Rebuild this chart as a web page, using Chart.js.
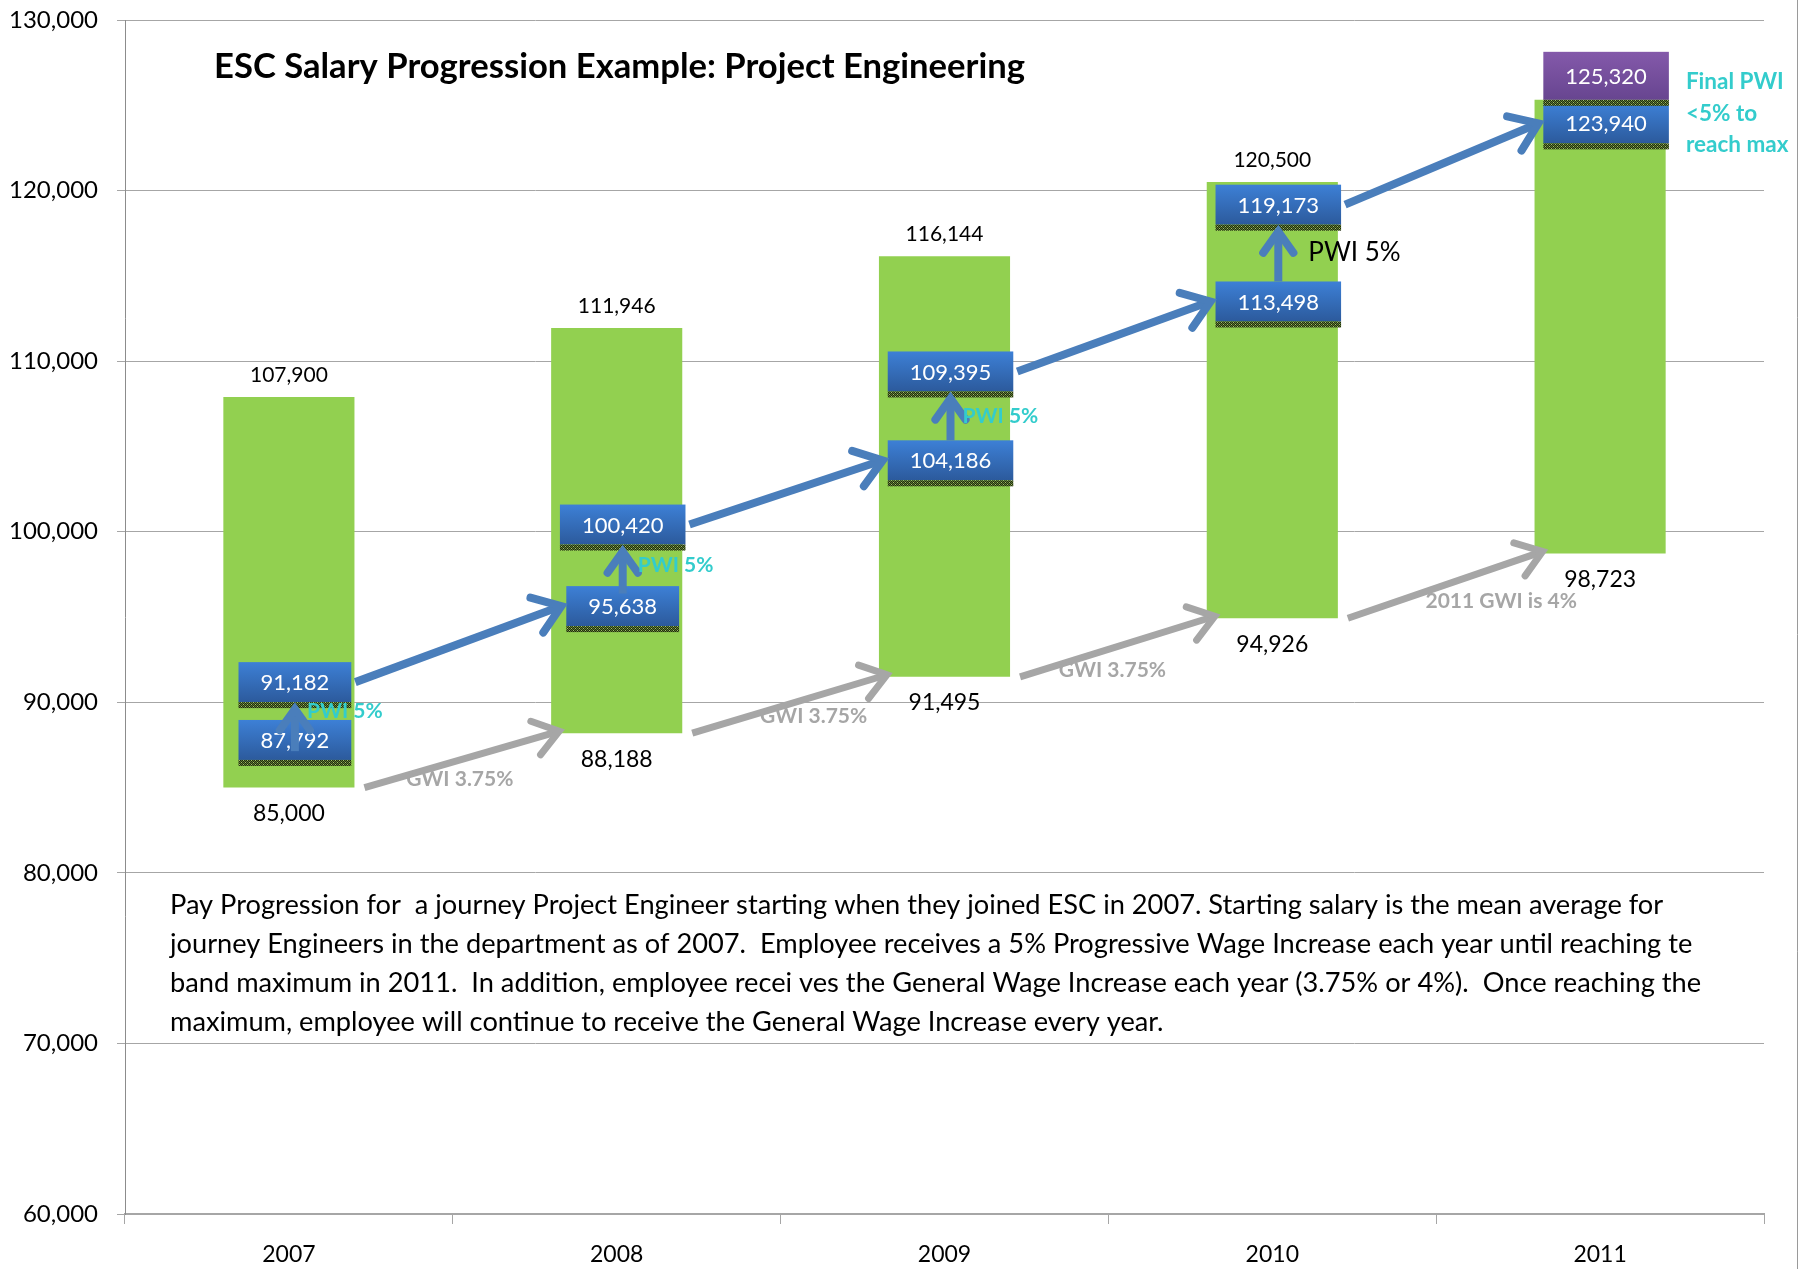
<!DOCTYPE html>
<html>
<head>
<meta charset="utf-8">
<script src="https://cdn.jsdelivr.net/npm/chart.js@4/dist/chart.umd.min.js"></script>
<style>
html,body{margin:0;padding:0;background:#fff;}
canvas{display:block;}
</style>
</head>
<body>
<canvas id="c" width="1811" height="1269"></canvas>
<script>
// ---------- DATA ----------
const years = ['2007', '2008', '2009', '2010', '2011'];
const bandMin = [85000, 88188, 91495, 94926, 98723];
const bandMax = [107900, 111946, 116144, 120500, 125320];
const salaryBeforePWI = [87792, 95638, 104186, 113498, 123940];
const salaryAfterPWI = [91182, 100420, 109395, 119173, 125320];
const gwiLabels = ['GWI 3.75%', 'GWI 3.75%', 'GWI 3.75%', '2011 GWI is 4%'];
const pwiLabels = ['PWI 5%', 'PWI 5%', 'PWI 5%', 'PWI 5%'];
const finalNote = ['Final PWI', '<5% to', 'reach max'];
const chartTitle = 'ESC Salary Progression Example: Project Engineering';
const noteLines = [
  'Pay Progression for  a journey Project Engineer starting when they joined ESC in 2007. Starting salary is the mean average for',
  'journey Engineers in the department as of 2007.  Employee receives a 5% Progressive Wage Increase each year until reaching te',
  'band maximum in 2011.  In addition, employee recei ves the General Wage Increase each year (3.75% or 4%).  Once reaching the',
  'maximum, employee will continue to receive the General Wage Increase every year.'
];

// ---------- STYLE ----------
const FONT = 'Lato, "Open Sans", sans-serif';
const GREEN = '#92d050';
const BLUE_ARROW = '#4a7ebb';
const GRAY_ARROW = '#a6a6a6';
const CYAN = '#33cccc';
const pwiStyle = [
  {dx: 12, color: CYAN, font: 'bold 21px ' + FONT},
  {dx: 15, color: CYAN, font: 'bold 21px ' + FONT},
  {dx: 12, color: CYAN, font: 'bold 21px ' + FONT},
  {dx: 30, color: '#000', font: '26px ' + FONT}
];
const gwiOffset = [[-2, 20], [24, 12], [-5, 24], [56, 16]];

const fmt = v => v.toLocaleString('en-US');

function makeHatch(ctx) {
  const c = document.createElement('canvas');
  c.width = 4; c.height = 4;
  const g = c.getContext('2d');
  g.fillStyle = '#5d7a30'; g.fillRect(0, 0, 4, 4);
  g.fillStyle = '#1f2a12';
  g.fillRect(0, 0, 1, 1); g.fillRect(2, 0, 1, 1); g.fillRect(1, 1, 1, 1); g.fillRect(3, 1, 1, 1);
  g.fillRect(0, 2, 1, 1); g.fillRect(2, 2, 1, 1); g.fillRect(1, 3, 1, 1); g.fillRect(3, 3, 1, 1);
  g.fillStyle = '#a3c460';
  g.fillRect(1, 2, 1, 1); g.fillRect(3, 0, 1, 1);
  return ctx.createPattern(c, 'repeat');
}

function arrow(ctx, x1, y1, x2, y2, color, width, head) {
  const a = Math.atan2(y2 - y1, x2 - x1);
  ctx.save();
  ctx.strokeStyle = color;
  ctx.lineWidth = width;
  ctx.lineCap = 'butt';
  ctx.beginPath();
  ctx.moveTo(x1, y1);
  ctx.lineTo(x2 - Math.cos(a) * width * 0.6, y2 - Math.sin(a) * width * 0.6);
  ctx.stroke();
  ctx.lineCap = 'round';
  ctx.lineJoin = 'miter';
  const sp = 0.62;
  ctx.beginPath();
  ctx.moveTo(x2 - head * Math.cos(a - sp), y2 - head * Math.sin(a - sp));
  ctx.lineTo(x2, y2);
  ctx.lineTo(x2 - head * Math.cos(a + sp), y2 - head * Math.sin(a + sp));
  ctx.stroke();
  ctx.restore();
}

function text(ctx, s, x, y, font, color, align) {
  ctx.font = font;
  ctx.fillStyle = color;
  ctx.textAlign = align || 'center';
  ctx.textBaseline = 'middle';
  ctx.fillText(s, x, y);
}

function fitSize(ctx, s, weight, target) {
  ctx.font = weight + ' 100px ' + FONT;
  return 100 * target / ctx.measureText(s).width;
}

function drawBox(ctx, hatch, cx, top, w, h, label, c1, c2) {
  const g = ctx.createLinearGradient(0, top, 0, top + h);
  g.addColorStop(0, c1);
  g.addColorStop(1, c2);
  ctx.fillStyle = g;
  ctx.fillRect(cx - w / 2, top, w, h);
  ctx.fillStyle = hatch;
  ctx.fillRect(cx - w / 2, top + h, w, 6);
  text(ctx, label, cx, top + h / 2 + 1, '22px ' + FONT, '#ffffff');
}

const deco = {
  id: 'deco',
  afterDatasetsDraw(chart) {
    const ctx = chart.ctx;
    const ca = chart.chartArea;
    const hatch = makeHatch(ctx);
    const bars = chart.getDatasetMeta(0).data.map(b => b.getProps(['x', 'y', 'base', 'width'], true));
    const pb = chart.getDatasetMeta(1).data.map(p => p.getProps(['x', 'y'], true));
    const pa = chart.getDatasetMeta(2).data.map(p => p.getProps(['x', 'y'], true));
    const n = years.length;

    // GWI gray arrows between band minimums
    for (let i = 0; i < n - 1; i++) {
      const b0 = bars[i], b1 = bars[i + 1];
      const x1 = b0.x + b0.width / 2 + 10, y1 = b0.base;
      const x2 = b1.x - b1.width / 2 + 8, y2 = b1.base - 2;
      arrow(ctx, x1, y1, x2, y2, GRAY_ARROW, 7, 30);
      text(ctx, gwiLabels[i], (x1 + x2) / 2 + gwiOffset[i][0], (y1 + y2) / 2 + gwiOffset[i][1],
        'bold 21px ' + FONT, GRAY_ARROW);
    }

    // band labels
    for (let i = 0; i < n; i++) {
      const b = bars[i];
      if (i < n - 1) text(ctx, fmt(bandMax[i]), b.x, b.y - 22, '21px ' + FONT, '#000');
      text(ctx, fmt(bandMin[i]), b.x, b.base + 26, '23px ' + FONT, '#000');
    }

    // salary boxes
    const boxes = [];
    for (let i = 0; i < n; i++) {
      const lb = fmt(salaryBeforePWI[i]);
      const la = fmt(salaryAfterPWI[i]);
      const cx = pb[i].x + 6;
      ctx.font = '22px ' + FONT;
      const wb = ctx.measureText(lb).width + 44;
      const wa = ctx.measureText(la).width + 44;
      const bTop = pb[i].y - 20;
      let aTop, aH;
      if (i === n - 1) { aH = 48; aTop = pa[i].y - aH; }
      else { aH = 40; aTop = pa[i].y - 20; }
      boxes.push({cx, wb, wa, bTop, aTop, aH});
      drawBox(ctx, hatch, cx, bTop, wb, 40, lb, '#3d80d6', '#2c5a9c');
      if (i === n - 1) drawBox(ctx, hatch, cx, aTop, wa, aH, la, '#8459aa', '#674590');
      else drawBox(ctx, hatch, cx, aTop, wa, aH, la, '#3d80d6', '#2c5a9c');
    }

    // PWI vertical arrows and labels
    for (let i = 0; i < n - 1; i++) {
      const bx = boxes[i];
      const aBottom = bx.aTop + bx.aH + 7;
      const start = Math.max(bx.bTop, aBottom + 42);
      arrow(ctx, bx.cx, start, bx.cx, aBottom, BLUE_ARROW, 8, 26);
      const st = pwiStyle[i];
      text(ctx, pwiLabels[i], bx.cx + st.dx, (pb[i].y + pa[i].y) / 2, st.font, st.color, 'left');
    }

    // progression arrows (after PWI -> next year's start)
    for (let i = 0; i < n - 1; i++) {
      const b0 = boxes[i], b1 = boxes[i + 1];
      arrow(ctx, b0.cx + b0.wa / 2 + 4, pa[i].y, b1.cx - b1.wb / 2 - 5, pb[i + 1].y, BLUE_ARROW, 8, 32);
    }

    // final PWI note
    const last = boxes[n - 1];
    finalNote.forEach((s, k) => {
      text(ctx, s, last.cx + last.wa / 2 + 17, pa[n - 1].y - 18 + k * 31.5, 'bold 22.5px ' + FONT, CYAN, 'left');
    });

    // title
    const ts = fitSize(ctx, chartTitle, 'bold', 811);
    text(ctx, chartTitle, ca.left + 89, ca.top + 47, 'bold ' + ts.toFixed(2) + 'px ' + FONT, '#000', 'left');

    // note paragraph
    const ns = fitSize(ctx, noteLines[0], '', 1494);
    noteLines.forEach((s, k) => {
      text(ctx, s, ca.left + 45, ca.top + 885 + k * 39, ns.toFixed(2) + 'px ' + FONT, '#000', 'left');
    });
  },
  afterDraw(chart) {
    const ctx = chart.ctx;
    ctx.save();
    ctx.strokeStyle = '#9a9a9a';
    ctx.lineWidth = 1;
    ctx.beginPath();
    ctx.moveTo(1797.5, 0);
    ctx.lineTo(1797.5, chart.height);
    ctx.stroke();
    ctx.restore();
  }
};

function build() {
  new Chart(document.getElementById('c'), {
    type: 'bar',
    data: {
      labels: years,
      datasets: [
        {
          label: 'Salary band',
          data: bandMin.map((v, i) => [v, bandMax[i]]),
          backgroundColor: GREEN,
          borderWidth: 0,
          barPercentage: 0.40,
          categoryPercentage: 1.0,
          order: 2
        },
        {
          type: 'line',
          label: 'Salary before PWI',
          data: salaryBeforePWI,
          showLine: false,
          pointRadius: 0,
          pointHoverRadius: 0,
          order: 1
        },
        {
          type: 'line',
          label: 'Salary after PWI',
          data: salaryAfterPWI,
          showLine: false,
          pointRadius: 0,
          pointHoverRadius: 0,
          order: 1
        }
      ]
    },
    options: {
      responsive: false,
      animation: false,
      layout: {padding: {left: 0, right: 47, top: 20, bottom: 0}},
      plugins: {legend: {display: false}, tooltip: {enabled: false}, title: {display: false}},
      scales: {
        x: {
          offset: true,
          grid: {offset: true, drawOnChartArea: false, drawTicks: true, tickLength: 10, color: '#a6a6a6'},
          border: {color: '#a6a6a6', width: 2},
          ticks: {font: {family: FONT, size: 23}, color: '#000', padding: 17, maxRotation: 0},
          afterFit: s => { s.height = 55; s.paddingLeft = 0; s.paddingRight = 0; }
        },
        y: {
          min: 60000,
          max: 130000,
          ticks: {stepSize: 10000, font: {family: FONT, size: 24}, color: '#000', padding: 19,
            callback: v => fmt(v)},
          grid: {color: '#a6a6a6', lineWidth: 1, tickLength: 8, drawTicks: true},
          border: {color: '#8c8c8c', width: 1},
          afterFit: s => { s.width = 125; s.paddingTop = 0; s.paddingBottom = 0; }
        }
      }
    },
    plugins: [deco]
  });
}

Promise.all([
  document.fonts.load('24px Lato'),
  document.fonts.load('bold 24px Lato')
]).then(build, build);
</script>
</body>
</html>
